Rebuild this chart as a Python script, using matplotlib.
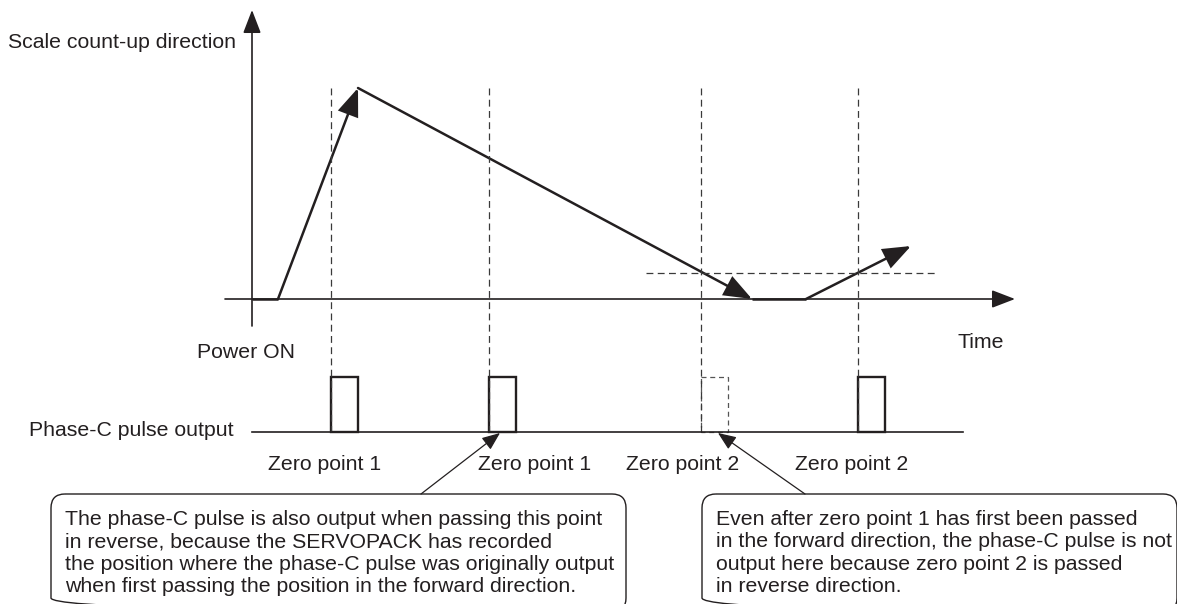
import matplotlib
matplotlib.use("Agg")
import matplotlib.pyplot as plt
from matplotlib.patches import FancyBboxPatch, Rectangle, FancyArrowPatch

# diagram units: x to the right, y downward, 1 unit = 1 px
W, H = 1177, 604

# axes of the position/time plot
origin = (252, 299)
time_axis_x = [225, 1015]
count_axis_y = [326, 10]

# scale position over time
trace_x = [252, 278, 358, 752, 806, 911]
trace_y = [299, 299, 88, 299, 299, 246]
trace_heads = [2, 3, 5]   # points that end with an arrow head

# reference level for zero point 2
ref_x = [646, 935]
ref_y = 273

# zero point crossings and phase-C pulses
zero_x = [331, 489, 701, 858]
zero_names = ["Zero point 1", "Zero point 1", "Zero point 2", "Zero point 2"]
zero_label_x = [325, 535, 683, 852]
pulse_out = [True, True, False, True]
pulse_line_x = [252, 963]
pulse_line_y = 432
pulse_w, pulse_h = 27, 55
guide_top = 88

# callouts
note1 = ("The phase-C pulse is also output when passing this point\n"
         "in reverse, because the SERVOPACK has recorded\n"
         "the position where the phase-C pulse was originally output\n"
         "when first passing the position in the forward direction.")
note2 = ("Even after zero point 1 has first been passed\n"
         "in the forward direction, the phase-C pulse is not\n"
         "output here because zero point 2 is passed\n"
         "in reverse direction.")
box1 = (51, 494, 575, 118)
box2 = (702, 494, 475, 118)
arrow1 = ((421, 494), (500, 433))
arrow2 = ((805, 494), (718, 433))

INK = "#231f20"
GUIDE = "#3a3a3a"
plt.rcParams['font.family'] = ['Liberation Sans', 'DejaVu Sans']


def main():
    fig = plt.figure(figsize=(W / 100, H / 100), dpi=100)
    ax = fig.add_axes([0, 0, 1, 1])
    ax.set_xlim(0, W)
    ax.set_ylim(H, 0)
    ax.axis("off")

    head = "-|>,head_length=1.3,head_width=0.5"
    dash = (0, (5.5, 3.5))

    # axes with arrows
    ax.add_patch(FancyArrowPatch((time_axis_x[0], origin[1]), (time_axis_x[1], origin[1]),
                                 arrowstyle=head, mutation_scale=11, lw=1.2,
                                 color=INK, shrinkA=0, shrinkB=0))
    ax.add_patch(FancyArrowPatch((origin[0], count_axis_y[0]), (origin[0], count_axis_y[1]),
                                 arrowstyle=head, mutation_scale=11, lw=1.2,
                                 color=INK, shrinkA=0, shrinkB=0))

    # dashed guides
    for x in zero_x:
        ax.plot([x, x], [guide_top, pulse_line_y], ls=dash, lw=0.9, color=GUIDE)
    ax.plot(ref_x, [ref_y, ref_y], ls=dash, lw=0.9, color=GUIDE)

    # position trace
    for i in range(len(trace_x) - 1):
        p0 = (trace_x[i], trace_y[i])
        p1 = (trace_x[i + 1], trace_y[i + 1])
        if (i + 1) in trace_heads:
            ax.add_patch(FancyArrowPatch(p0, p1, arrowstyle=head, mutation_scale=13,
                                         lw=1.8, color=INK, shrinkA=0, shrinkB=0,
                                         joinstyle="miter"))
        else:
            ax.plot([p0[0], p1[0]], [p0[1], p1[1]], lw=1.8, color=INK,
                    solid_capstyle="butt")

    # phase-C pulse output line and pulses
    ax.plot(pulse_line_x, [pulse_line_y, pulse_line_y], lw=1.2, color=INK)
    for x, on in zip(zero_x, pulse_out):
        if on:
            ax.add_patch(Rectangle((x, pulse_line_y - pulse_h), pulse_w, pulse_h,
                                   fill=False, ec=INK, lw=1.7))
        else:
            ax.add_patch(Rectangle((x, pulse_line_y - pulse_h), pulse_w, pulse_h,
                                   fill=False, ec="#555555", lw=0.9, ls=(0, (4, 3))))

    # labels
    fs = 15.3
    ax.text(8, 43, "Scale count-up direction", fontsize=fs, color=INK,
            ha="left", va="center")
    ax.text(197, 352, "Power ON", fontsize=fs, color=INK, ha="left", va="center")
    ax.text(957, 342, "Time", fontsize=fs, color=INK, ha="left", va="center")
    ax.text(29, 431, "Phase-C pulse output", fontsize=fs, color=INK,
            ha="left", va="center")
    for lx, name in zip(zero_label_x, zero_names):
        ax.text(lx, 464, name, fontsize=fs, color=INK, ha="center", va="center")

    # callout boxes
    for (bx, by, bw, bh), txt in [(box1, note1), (box2, note2)]:
        ax.add_patch(FancyBboxPatch((bx, by), bw, bh,
                                    boxstyle="round,pad=0,rounding_size=14",
                                    fill=False, ec=INK, lw=1.0))
        ax.text(bx + 14, 553, txt, fontsize=fs, color=INK, ha="left",
                va="center", linespacing=1.24)

    for start, end in [arrow1, arrow2]:
        ax.add_patch(FancyArrowPatch(start, end,
                                     arrowstyle="-|>,head_length=1.1,head_width=0.45",
                                     mutation_scale=10, lw=0.9, color=INK,
                                     shrinkA=0, shrinkB=0))

    fig.savefig("out.png", dpi=100, facecolor="white")


if __name__ == "__main__":
    main()
